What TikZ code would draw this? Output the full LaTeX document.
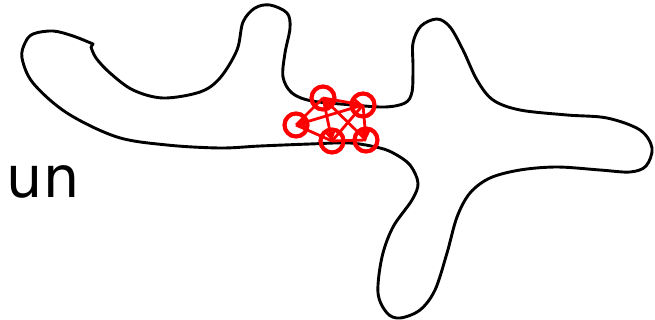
\documentclass[tikz,border=0pt]{standalone}
\usepackage{fontspec}
\setmainfont{DejaVu Sans}
\usetikzlibrary{arrows.meta}
\begin{document}
\begin{tikzpicture}[x=1pt,y=-1pt,
  outline/.style={line width=2.9pt,line join=round,line cap=round},
  vtx/.style={circle,draw=red,line width=4.2pt,minimum size=23pt,inner sep=0pt},
  link/.style={red,line width=2.8pt},
  edge/.style={link,-{Triangle[length=9pt,width=10pt]}}]
\useasboundingbox (0,0) rectangle (655,320);
\draw[outline] plot[smooth,tension=0.55] coordinates {
(91,47) (96,58) (110,73) (133,90) (163,98) (200,92) (220,78) (237,50) (243,22) (255,8) (270,5) (287,13) (290,28) (285,53) (283,77) (292,93) (312,101) (353,105) (385,107) (405,103) (412,92) (413,67) (413,43) (421,26) (437,19) (450,27) (463,50) (477,80) (493,100) (520,110) (567,115) (607,118) (640,130) (652,148) (646,166) (630,172) (600,170) (557,167) (520,170) (490,178) (470,193) (457,217) (447,253) (435,290) (420,310) (400,318) (387,313) (378,293) (382,257) (393,227) (412,200) (418,183) (410,165) (395,154) (380,148) (350,143) (310,144) (260,146) (220,148) (167,145) (117,137) (67,113) (33,83) (22,58) (25,43) (33,34) (53,31) (73,36) (93,44)} -- (91,47);
\node[anchor=base,font=\fontsize{57}{60}\selectfont,inner sep=0pt] (lbl) at (43,198) {un};
\coordinate (A) at (323,98);
\coordinate (B) at (363,105);
\coordinate (C) at (296,125);
\coordinate (D) at (332,141);
\coordinate (E) at (366,140);
\draw[link] (A) -- (C);
\draw[link] (C) -- (D);
\draw[link] (B) -- (D);
\draw[link] (D) -- (E);
\draw[edge] (E) -- (A);
\draw[edge] (A) -- (B);
\draw[edge] (B) -- (C);
\draw[edge] (A) -- (D);
\draw[edge] (B) -- (E);
\foreach \v in {A,B,C,D,E} \node[vtx] (n\v) at (\v) {};
\end{tikzpicture}
\end{document}
